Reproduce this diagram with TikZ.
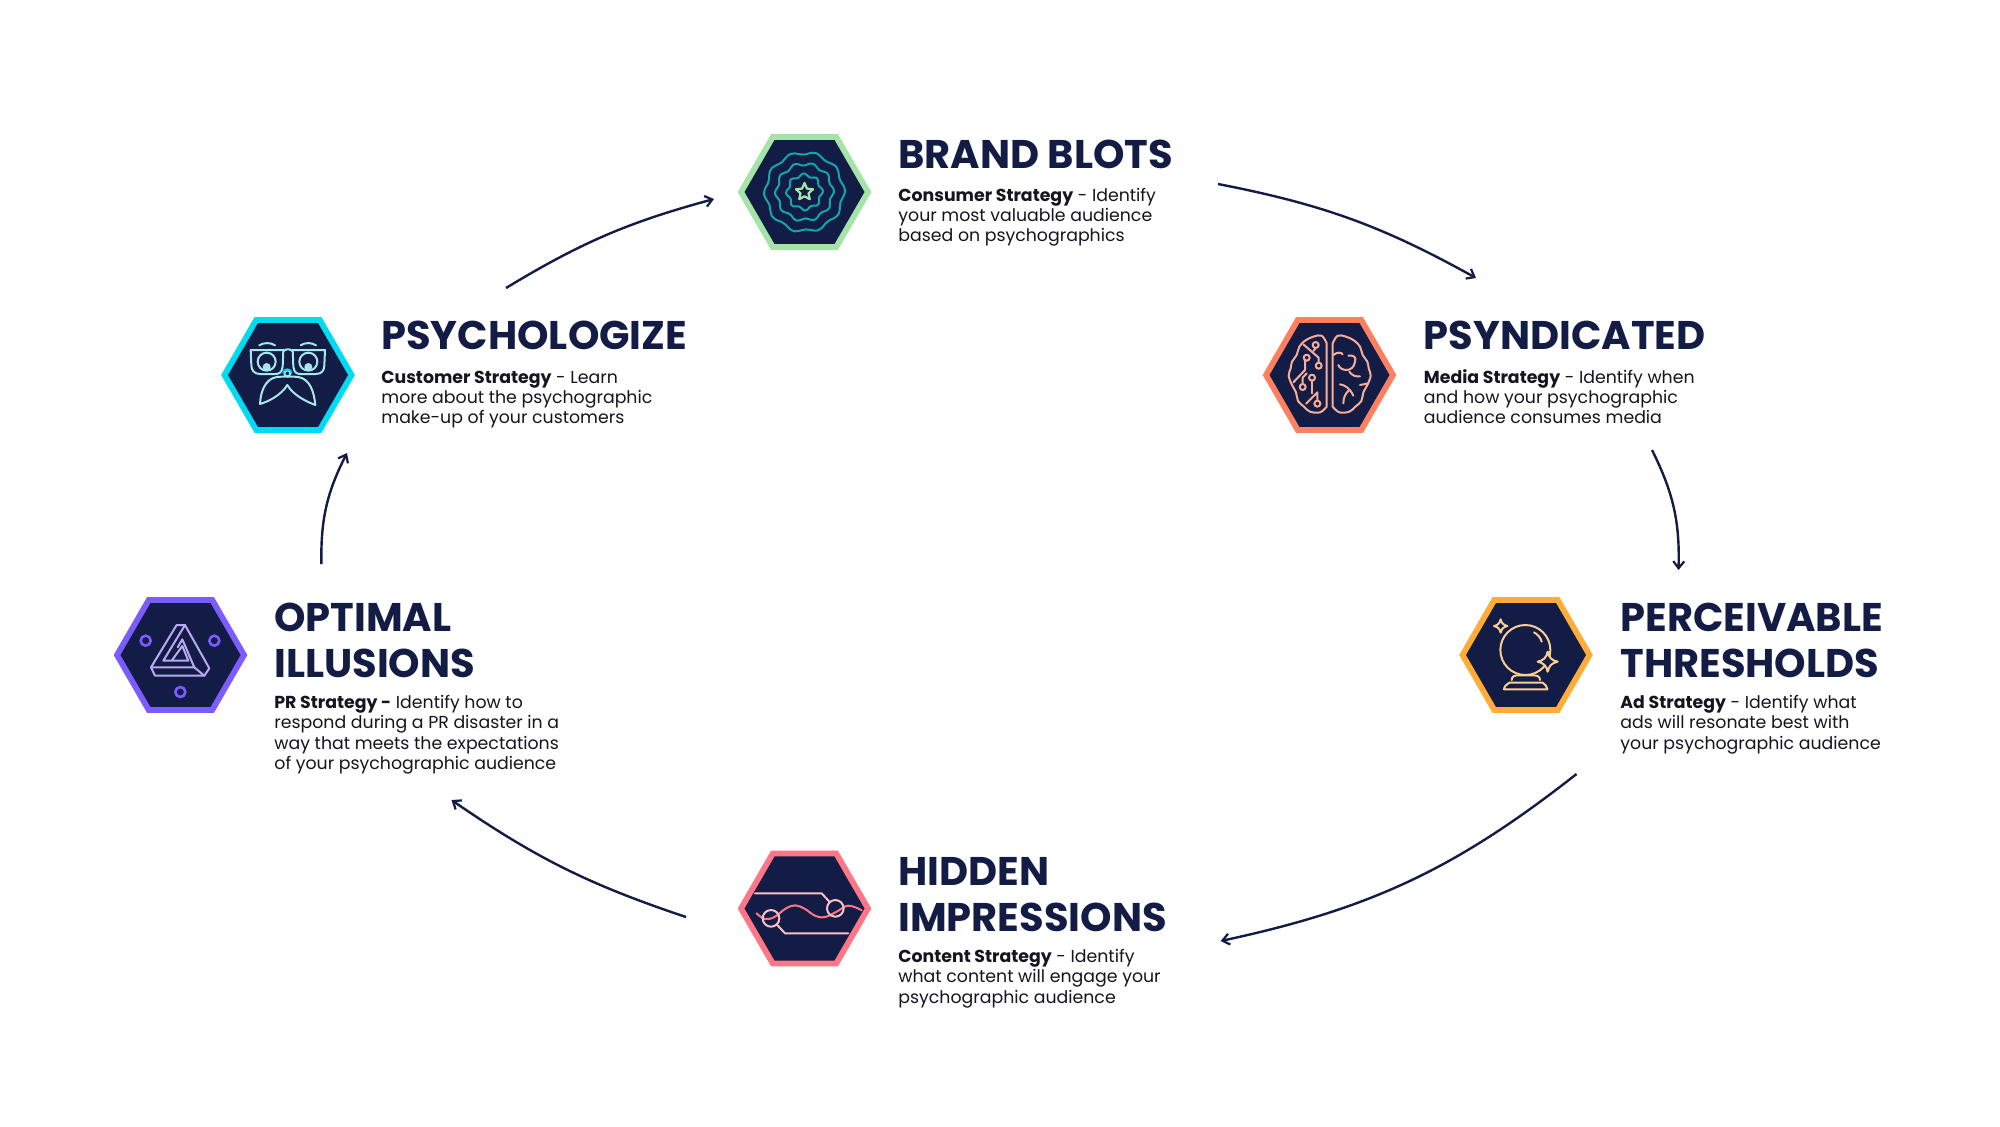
\documentclass[tikz,border=0pt]{standalone}
\usepackage{fontspec}
\setmainfont{Poppins}
\usetikzlibrary{shapes.geometric,arrows.meta}
\definecolor{navy}{HTML}{131C45}
\definecolor{ink}{HTML}{15151F}
\definecolor{cgreen}{HTML}{A4E4A6}\definecolor{cteal}{HTML}{12A8A6}
\definecolor{ccyan}{HTML}{00DAF2}\definecolor{lcyan}{HTML}{A6E6EC}
\definecolor{ccoral}{HTML}{FF8060}\definecolor{lcoral}{HTML}{F7AE98}
\definecolor{camber}{HTML}{FFAD38}\definecolor{lamber}{HTML}{F9D094}
\definecolor{cpink}{HTML}{FF7688}\definecolor{lpink}{HTML}{F8C0C8}
\definecolor{cviolet}{HTML}{7A5CFF}\definecolor{lviolet}{HTML}{BBA8F5}
\newcommand{\bodylines}[1]{\parbox[t]{300pt}{\fontsize{8.67}{10.2}\selectfont\raggedright #1}}
\newcommand{\titlelines}[1]{\parbox[t]{300pt}{\fontsize{20}{23.3}\selectfont\bfseries\raggedright #1}}
\tikzset{
  hexa/.style={regular polygon,regular polygon sides=6,minimum size=63.5pt,inner sep=0pt,fill=navy,line width=2.9pt,line join=miter},
  titletext/.style={anchor=base west,inner sep=0pt,text=navy},
  bodytext/.style={anchor=base west,inner sep=0pt,text=ink},
  flow/.style={draw=navy,line width=1.2pt,-{Straight Barb[length=3.5pt,width=5.5pt,line width=1.1pt]}},
  icon/.style={line width=1pt,line cap=round,line join=round},
  zm/.style={x=.166667pt,y=-.166667pt},
}
\begin{document}
\begin{tikzpicture}[x=.5pt,y=-.5pt]
\useasboundingbox (0,0) rectangle (2000,1126);
\fill[white] (0,0) rectangle (2000,1126);
% hexagons
\node[hexa,draw=cgreen] (brand) at (804.5,192) {};
\node[hexa,draw=ccyan] (psycho) at (288,375) {};
\node[hexa,draw=ccoral] (psyn) at (1329.5,375) {};
\node[hexa,draw=camber] (perc) at (1526,655) {};
\node[hexa,draw=cpink] (hidden) at (804.5,908.5) {};
\node[hexa,draw=cviolet] (optimal) at (180.5,655) {};
% titles
\node[titletext] (tbrand) at (898,168) {\titlelines{BRAND BLOTS}};
\node[bodytext] (bbrand) at (898,201) {\bodylines{\textbf{Consumer Strategy} - Identify\\your most valuable audience\\based on psychographics}};
\node[titletext] (tpsycho) at (381,349.5) {\titlelines{PSYCHOLOGIZE}};
\node[bodytext] (bpsycho) at (381,383) {\bodylines{\textbf{Customer Strategy} - Learn\\more about the psychographic\\make-up of your customers}};
\node[titletext] (tpsyn) at (1423.5,349.5) {\titlelines{PSYNDICATED}};
\node[bodytext] (bpsyn) at (1423.5,383) {\bodylines{\textbf{Media Strategy} - Identify when\\and how your psychographic\\audience consumes media}};
\node[titletext] (tperc) at (1620,631) {\titlelines{PERCEIVABLE\\THRESHOLDS}};
\node[bodytext] (bperc) at (1620,708.5) {\bodylines{\textbf{Ad Strategy} - Identify what\\ads will resonate best with\\your psychographic audience}};
\node[titletext] (thidden) at (898,885) {\titlelines{HIDDEN\\IMPRESSIONS}};
\node[bodytext] (bhidden) at (898,962.5) {\bodylines{\textbf{Content Strategy} - Identify\\what content will engage your\\psychographic audience}};
\node[titletext] (toptimal) at (274,631) {\titlelines{OPTIMAL\\ILLUSIONS}};
\node[bodytext] (boptimal) at (274,708.5) {\bodylines{\textbf{PR Strategy -} Identify how to\\respond during a PR disaster in a\\way that meets the expectations\\of your psychographic audience}};
% connector ends
\coordinate (a1s) at (1218,184); \coordinate (a1e) at (1476,278);
\coordinate (a2s) at (1652,450); \coordinate (a2e) at (1678.5,570);
\coordinate (a3s) at (1576.5,774); \coordinate (a3e) at (1220.6,941);
\coordinate (a4s) at (686,917); \coordinate (a4e) at (451.5,800);
\coordinate (a5s) at (321.4,564); \coordinate (a5e) at (347,453);
\coordinate (a6s) at (506,288); \coordinate (a6e) at (714,199);
\draw[flow] (a1s) to[bend left=9] (a1e);
\draw[flow] (a2s) to[bend left=14] (a2e);
\draw[flow] (a3s) to[bend left=13] (a3e);
\draw[flow] (a4s) to[bend left=8] (a4e);
\draw[flow] (a5s) to[bend left=14] (a5e);
\draw[flow] (a6s) to[bend left=8] (a6e);
% brand icon
\begin{scope}[shift={(804.5,192)},icon,draw=cteal]
\foreach \R/\n in {39/10,28/10,17/8}{
  \draw[line width=1pt] plot[smooth cycle,domain=0:352,samples=45] (\x:{\R+1.6*cos(\n*\x+20)});
}
\draw[cgreen,line width=1.1pt] (270:9)--(306:4.2)--(342:9)--(18:4.2)--(54:9)--(90:4.2)--(126:9)--(162:4.2)--(198:9)--(234:4.2)--cycle;
\end{scope}
% psychologize icon
\begin{scope}[shift={(210,305)},zm,icon,draw=lcyan]
\draw (122,135) -- (220,135) -- (218,185) .. controls (216,205) and (205,207) .. (195,207) -- (150,207) .. controls (132,207) and (124,195) .. (124,180) -- cycle;
\draw (345,135) -- (248,135) -- (250,185) .. controls (252,205) and (263,207) .. (273,207) -- (318,207) .. controls (336,207) and (343,195) .. (343,180) -- cycle;
\draw (220,138) .. controls (230,131) and (238,131) .. (248,138);
\draw (170,170) circle (27); \draw (295,170) circle (27);
\fill[lcyan] (170,186) circle (12); \fill[lcyan] (295,186) circle (12);
\draw (148,121) .. controls (160,112) and (183,112) .. (195,121);
\draw (272,121) .. controls (284,112) and (306,112) .. (318,121);
\draw (232,205) circle (9);
\draw (232,240) .. controls (250,270) and (285,288) .. (316,300) .. controls (312,260) and (300,222) .. (265,216) .. controls (250,214) and (225,214) .. (200,216) .. controls (165,222) and (152,260) .. (150,297) .. controls (180,288) and (215,268) .. (232,240) -- cycle;
\draw[ccyan] (220,203) .. controls (222,190) and (242,190) .. (244,203);
\end{scope}
% brain icon
\begin{scope}[shift={(1260,305)},zm,icon,draw=lcoral]
\draw plot[smooth,tension=.6] coordinates {(200,115)(185,92)(160,95)(135,107)(118,125)(110,150)(96,170)(92,190)(86,212)(96,240)(108,262)(114,288)(132,305)(150,320)(180,322)(200,305)} -- cycle;
\draw plot[smooth,tension=.6] coordinates {(218,115)(233,92)(258,95)(283,107)(300,125)(308,150)(322,170)(326,190)(332,212)(322,240)(310,262)(304,288)(286,305)(268,320)(238,322)(218,305)} -- cycle;
\draw (130,118) -- (176,158) -- (176,173);
\draw (167,120) circle (9); \draw (167,129) -- (160,138);
\draw (140,158) circle (9); \draw (135,166) -- (135,195) -- (100,232);
\draw (176,182) circle (9);
\draw (156,218) circle (9); \draw (156,227) -- (156,265);
\draw (128,246) circle (9); \draw (128,237) -- (128,218) -- (140,205);
\draw (172,296) circle (9); \draw (172,287) -- (172,262) -- (138,296);
\draw (220,150) .. controls (232,140) and (245,142) .. (248,148);
\draw (235,180) .. controls (240,198) and (280,205) .. (285,170);
\draw (268,200) .. controls (275,212) and (290,216) .. (300,214);
\draw (285,170) .. controls (290,155) and (280,150) .. (265,152);
\draw (240,238) .. controls (255,240) and (270,250) .. (280,272);
\draw (268,255) .. controls (255,265) and (250,280) .. (250,295);
\draw (300,240) -- (325,235);
\end{scope}
% crystal ball
\begin{scope}[shift={(1460,590)},zm,icon,draw=lamber]
\draw (196,180) circle (75);
\draw (222,127) .. controls (232,132) and (242,143) .. (245,155);
\draw (155,270) .. controls (155,258) and (165,256) .. (175,256) -- (220,256) .. controls (232,256) and (240,260) .. (240,270);
\draw (148,278) -- (248,278) .. controls (255,282) and (262,290) .. (262,298) -- (132,298) .. controls (132,290) and (140,282) .. (148,278) -- cycle;
\draw (122,88) .. controls (125,100) and (130,105) .. (142,108) .. controls (130,111) and (125,116) .. (122,128) .. controls (119,116) and (114,111) .. (102,108) .. controls (114,105) and (119,100) .. (122,88) -- cycle;
\draw[fill=navy] (263,185) .. controls (267,203) and (275,211) .. (293,215) .. controls (275,219) and (267,227) .. (263,245) .. controls (259,227) and (251,219) .. (233,215) .. controls (251,211) and (259,203) .. (263,185) -- cycle;
\end{scope}
% hidden icon
\begin{scope}[shift={(730,845)},zm,icon,draw=lpink]
\draw (75,145) -- (275,145) -- (300,172);
\draw (140,238) -- (165,265) -- (355,265);
\draw[cpink] plot[smooth,tension=.7] coordinates {(80,205)(105,222)(135,215)(165,192)(195,181)(225,192)(255,212)(285,216)(320,200)(355,182)(395,196)};
\draw (316,190) circle (25);
\draw (123,220) circle (25);
\end{scope}
% optimal icon
\begin{scope}[shift={(105,590)},zm,icon]
\draw[cviolet,line width=1.3pt] (122,152) circle (15) (328,152) circle (15) (226,306) circle (15);
\begin{scope}[draw=lviolet]
\draw (138,232) -- (215,105) -- (240,105) -- (313,235) -- (298,257) -- (150,257) -- cycle;
\draw (240,105) -- (175,212) -- (250,212) -- (232,168) -- (200,212);
\draw (138,232) -- (268,232) -- (232,148) -- (218,172);
\draw (268,232) -- (298,257);
\end{scope}
\end{scope}
\end{tikzpicture}
\end{document}
